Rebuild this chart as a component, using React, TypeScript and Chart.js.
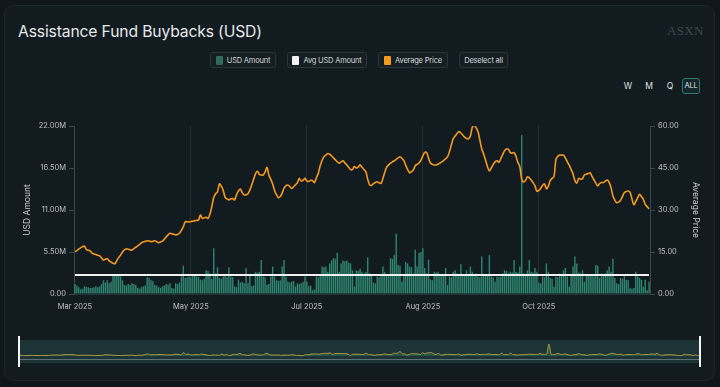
import React, { useEffect, useRef } from 'react';
import { Chart, registerables } from 'chart.js';
Chart.register(...registerables);

// ---- data ----
const startYear = 2025;
const startMonth = 2; // March (0-based)
const startDay = 1;
const labelEvery = 61;

// USD amount bought back per day, in millions
const usdAmountM = [
  1.3, 1.1, 0.9, 0.6, 0.7, 1.0, 0.95, 0.9, 0.8, 0.8,
  0.9, 1.0, 0.9, 1.0, 1.3, 1.8, 1.5, 1.8, 1.4, 1.6,
  2.4, 2.6, 2.5, 2.4, 2.3, 1.8, 1.2, 1.1, 1.3, 1.2,
  1.4, 1.3, 1.2, 0.8, 0.7, 0.9, 1.0, 1.1, 2.2, 2.1,
  1.8, 1.7, 1.2, 1.1, 0.9, 0.8, 1.0, 1.1, 1.3, 1.2,
  1.4, 0.8, 0.7, 1.4, 1.3, 1.5, 2.3, 3.7, 2.1, 2.2,
  2.3, 2.2, 2.6, 2.5, 2.3, 2.2, 1.9, 1.8, 2.0, 3.1,
  3.0, 2.7, 2.0, 6.0, 2.7, 3.5, 2.1, 2.0, 2.3, 2.4,
  2.2, 3.5, 2.3, 2.2, 1.0, 0.9, 1.9, 1.5, 1.6, 1.4,
  3.4, 1.4, 2.5, 1.0, 1.1, 2.9, 2.8, 2.9, 4.45, 2.3,
  2.2, 1.2, 1.3, 2.3, 3.6, 2.3, 1.8, 1.7, 1.8, 3.6,
  4.45, 2.3, 1.6, 1.5, 1.6, 1.7, 1.0, 1.4, 1.3, 1.4,
  1.6, 2.3, 1.6, 1.0, 1.1, 0.5, 0.6, 2.3, 2.2, 2.4,
  3.6, 3.5, 3.6, 2.9, 4.0, 4.4, 4.7, 4.6, 5.4, 2.9,
  4.0, 4.4, 4.3, 4.4, 4.1, 4.0, 3.1, 1.0, 3.1, 3.0,
  3.3, 2.9, 2.7, 2.9, 4.8, 2.7, 2.6, 1.5, 1.4, 2.3,
  2.2, 2.5, 3.6, 2.9, 2.5, 2.4, 4.7, 4.6, 5.1, 7.9,
  3.8, 3.7, 1.6, 2.5, 4.2, 4.0, 3.6, 3.5, 2.7, 5.8,
  3.6, 5.4, 5.5, 6.0, 3.4, 2.7, 4.5, 1.9, 1.8, 2.9,
  2.8, 2.9, 2.5, 2.4, 2.5, 3.4, 1.2, 2.3, 2.2, 2.9,
  3.1, 2.7, 2.6, 3.9, 2.5, 2.4, 3.1, 2.6, 3.6, 2.9,
  2.5, 2.7, 2.3, 2.2, 4.9, 2.5, 2.4, 2.5, 5.1, 2.3,
  2.2, 1.6, 2.3, 2.2, 2.3, 2.7, 3.1, 3.0, 2.7, 2.9,
  2.8, 4.45, 2.9, 2.8, 3.6, 20.8, 2.7, 2.6, 3.1, 4.45,
  2.9, 2.8, 3.4, 2.9, 1.5, 1.4, 2.3, 2.2, 4.0, 2.9,
  2.1, 2.0, 0.95, 2.3, 2.2, 2.7, 2.4, 3.1, 3.4, 2.3,
  0.95, 2.5, 3.6, 4.9, 4.0, 2.8, 2.7, 3.1, 1.6, 2.4,
  2.5, 2.4, 2.5, 2.3, 3.8, 3.7, 2.1, 2.7, 2.6, 2.7,
  3.1, 3.6, 2.9, 4.6, 2.1, 1.4, 1.3, 2.1, 2.0, 2.3,
  1.85, 1.8, 0.75, 0.7, 0.8, 2.9, 2.3, 2.1, 1.85, 0.95,
  1.85, 0.5, 1.6,
];

// Average buyback price per day (USD)
const averagePrice = [
  15.1, 15.5, 16.0, 16.5, 16.9, 17.1, 15.9, 15.6, 15.4, 14.6,
  14.3, 14.1, 13.8, 13.6, 12.9, 12.1, 12.4, 12.6, 11.8, 11.4,
  11.0, 10.8, 11.9, 13.0, 13.9, 15.0, 15.8, 16.1, 16.0, 15.8,
  15.7, 16.2, 16.7, 17.2, 17.7, 18.3, 18.6, 18.8, 19.0, 18.9,
  18.7, 18.8, 19.0, 18.7, 18.3, 18.6, 18.9, 19.6, 20.4, 21.1,
  21.7, 21.5, 21.3, 21.1, 21.3, 21.7, 22.8, 24.0, 25.8, 25.8,
  25.7, 25.9, 26.0, 26.2, 26.3, 26.4, 28.2, 27.0, 27.2, 27.4,
  27.0, 28.5, 31.2, 34.5, 35.8, 36.5, 39.3, 38.5, 37.0, 34.5,
  34.0, 33.6, 34.0, 34.1, 33.6, 35.5, 36.8, 37.5, 36.2, 35.4,
  35.4, 35.8, 37.1, 39.0, 41.0, 43.0, 43.8, 42.7, 42.5, 42.5,
  43.5, 45.2, 42.5, 41.0, 39.3, 37.0, 35.5, 34.4, 34.8, 36.0,
  37.8, 38.7, 38.9, 38.4, 37.7, 38.3, 39.0, 39.7, 41.3, 40.3,
  40.6, 41.3, 40.3, 40.2, 40.6, 40.5, 39.8, 41.5, 43.1, 45.8,
  47.7, 49.0, 49.6, 50.2, 49.9, 49.3, 48.6, 47.9, 47.2, 46.7,
  47.2, 47.6, 46.8, 46.1, 45.3, 44.4, 44.5, 45.5, 45.0, 45.3,
  46.1, 45.3, 44.5, 43.7, 41.0, 39.0, 38.8, 39.4, 39.8, 40.1,
  39.7, 39.5, 41.3, 43.5, 45.3, 46.1, 46.7, 47.2, 47.6, 48.1,
  48.6, 49.0, 48.5, 47.6, 46.0, 44.5, 43.3, 43.7, 44.3, 45.8,
  46.3, 46.8, 47.8, 49.3, 50.6, 50.6, 48.5, 46.8, 46.3, 46.1,
  46.1, 46.4, 46.8, 47.2, 47.7, 48.3, 49.0, 50.8, 53.2, 55.5,
  56.4, 57.3, 58.0, 57.5, 56.8, 56.0, 55.5, 55.4, 56.4, 59.5,
  60.2, 59.4, 58.0, 55.0, 51.8, 50.0, 47.8, 45.5, 44.0, 45.0,
  46.2, 47.2, 47.6, 47.0, 48.3, 49.8, 51.2, 51.8, 51.7, 50.5,
  50.3, 50.5, 49.2, 47.0, 45.5, 41.0, 40.0, 40.5, 41.8, 41.5,
  40.7, 39.8, 38.6, 36.7, 37.0, 37.7, 38.8, 39.3, 37.6, 38.5,
  40.5, 41.3, 41.9, 48.0, 49.2, 49.6, 49.6, 49.6, 48.5, 47.2,
  46.0, 44.5, 42.9, 40.5, 39.6, 41.3, 41.0, 41.2, 42.5, 42.8,
  43.0, 43.3, 42.0, 40.8, 39.6, 38.6, 39.4, 39.8, 39.8, 40.3,
  40.7, 39.9, 38.0, 35.0, 33.5, 32.6, 32.8, 33.5, 34.8, 36.2,
  36.6, 36.8, 36.3, 34.0, 31.9, 33.0, 34.3, 35.6, 34.8, 33.8,
  32.0, 31.2, 30.4,
];

const avgUsdAmountM = 2.49;

const leftAxis = { min: 0, max: 22, step: 5.5 };
const rightAxis = { min: 0, max: 60, step: 15 };

const MONTHS = ['Jan', 'Feb', 'Mar', 'Apr', 'May', 'Jun', 'Jul', 'Aug', 'Sep', 'Oct', 'Nov', 'Dec'];
const dates = averagePrice.map((_, i) => new Date(Date.UTC(startYear, startMonth, startDay + i)));
const labels = dates.map((d) => `${MONTHS[d.getUTCMonth()]} ${d.getUTCDate()}, ${d.getUTCFullYear()}`);

const FONT = 'Inter, "Noto Sans", sans-serif';
const TICK_COLOR = '#b9c0c3';
const AXIS_LINE = '#3d484d';
const GRID_X = '#232d32';

function MainChart() {
  const ref = useRef<HTMLCanvasElement | null>(null);
  useEffect(() => {
    if (!ref.current) return;
    const chart = new Chart(ref.current, {
      type: 'bar',
      data: {
        labels,
        datasets: [
          {
            type: 'line',
            label: 'Average Price',
            data: averagePrice,
            yAxisID: 'y1',
            borderColor: '#f5991f',
            borderWidth: 1.6,
            pointRadius: 0,
            tension: 0.35,
            order: 0,
          } as any,
          {
            type: 'line',
            label: 'Avg USD Amount',
            data: labels.map(() => avgUsdAmountM),
            yAxisID: 'y',
            borderColor: '#eef0f0',
            borderWidth: 2,
            pointRadius: 0,
            order: 1,
          } as any,
          {
            type: 'bar',
            label: 'USD Amount',
            data: usdAmountM,
            yAxisID: 'y',
            backgroundColor: '#2f8470',
            barPercentage: 0.75,
            categoryPercentage: 1,
            order: 2,
          },
        ],
      },
      options: {
        responsive: false,
        animation: false,
        layout: { padding: { left: 18, right: 18, top: 126, bottom: 16 } },
        plugins: { legend: { display: false }, tooltip: { enabled: false } },
        scales: {
          x: {
            offset: true,
            grid: {
              offset: false,
              drawTicks: false,
              color: (ctx: any) => (ctx.index % labelEvery === 0 ? GRID_X : 'rgba(0,0,0,0)'),
            },
            border: { display: true, color: '#263136' },
            ticks: {
              autoSkip: false,
              maxRotation: 0,
              minRotation: 0,
              padding: 8,
              color: TICK_COLOR,
              font: { family: FONT, size: 7.5 },
              callback: (_v: any, i: number) => {
                if (i % labelEvery !== 0) return '';
                const d = dates[i];
                return `${MONTHS[d.getUTCMonth()]} ${d.getUTCFullYear()}`;
              },
            },
            afterFit: (s: any) => { s.height = 20; },
          },
          y: {
            position: 'left',
            min: leftAxis.min,
            max: leftAxis.max,
            grid: { drawOnChartArea: false, drawTicks: true, tickLength: 5, color: AXIS_LINE },
            border: { display: true, color: AXIS_LINE },
            ticks: {
              stepSize: leftAxis.step,
              padding: 3,
              color: TICK_COLOR,
              font: { family: FONT, size: 7.5 },
              callback: (v: any) => (Number(v) === 0 ? '0.00' : `${Number(v).toFixed(2)}M`),
            },
            title: {
              display: true,
              text: 'USD Amount',
              color: '#c9ced1',
              font: { family: FONT, size: 8.5 },
              padding: { top: 4, bottom: 0 },
            },
            afterFit: (s: any) => { s.width = 56; },
          },
          y1: {
            position: 'right',
            min: rightAxis.min,
            max: rightAxis.max,
            grid: { drawOnChartArea: false, drawTicks: true, tickLength: 5, color: AXIS_LINE },
            border: { display: true, color: AXIS_LINE },
            ticks: {
              stepSize: rightAxis.step,
              padding: 3,
              color: TICK_COLOR,
              font: { family: FONT, size: 7.5 },
              callback: (v: any) => Number(v).toFixed(2),
            },
            title: {
              display: true,
              text: 'Average Price',
              color: '#c9ced1',
              font: { family: FONT, size: 8.5 },
              padding: { top: 1, bottom: 0 },
            },
            afterFit: (s: any) => { s.width = 52; },
          },
        },
      },
    });
    return () => chart.destroy();
  }, []);
  return (
    <canvas
      ref={ref}
      width={720}
      height={330}
      style={{ position: 'absolute', left: 0, top: 0, width: 720, height: 330 }}
    />
  );
}

function Navigator() {
  const ref = useRef<HTMLCanvasElement | null>(null);
  useEffect(() => {
    if (!ref.current) return;
    const chart = new Chart(ref.current, {
      type: 'line',
      data: {
        labels,
        datasets: [
          {
            data: usdAmountM,
            borderColor: '#b09a3e',
            borderWidth: 1,
            backgroundColor: 'rgba(46,110,88,0.55)',
            fill: 'origin',
            pointRadius: 0,
            tension: 0.3,
          },
        ],
      },
      options: {
        responsive: false,
        animation: false,
        layout: { padding: 0 },
        plugins: { legend: { display: false }, tooltip: { enabled: false } },
        scales: {
          x: { display: false },
          y: { display: false, min: -12.1, max: 27.7 },
        },
      },
    });
    return () => chart.destroy();
  }, []);
  return (
    <canvas
      ref={ref}
      width={681}
      height={23}
      style={{ position: 'absolute', left: 19, top: 340, width: 681, height: 23 }}
    />
  );
}

const legendItems = [
  { label: 'USD Amount', swatch: '#2e6b58', left: 210, width: 66 },
  { label: 'Avg USD Amount', swatch: '#f2f2f2', left: 287, width: 80 },
  { label: 'Average Price', swatch: '#f5991f', left: 378, width: 70 },
  { label: 'Deselect all', swatch: null, left: 459, width: 49 },
];

const ranges = [
  { label: 'W', left: 623 },
  { label: 'M', left: 644 },
  { label: 'Q', left: 665 },
];

export default function App() {
  return (
    <div
      style={{
        position: 'fixed',
        left: 0,
        top: 0,
        width: 720,
        height: 387,
        background: '#0f171b',
        overflow: 'hidden',
        fontFamily: FONT,
      }}
    >
      <div
        style={{
          position: 'absolute',
          left: 4,
          top: 5,
          width: 711,
          height: 376,
          background: '#121b20',
          border: '1px solid #1d282d',
          borderRadius: 10,
          boxSizing: 'border-box',
        }}
      />
      <div
        style={{
          position: 'absolute',
          left: 18,
          top: 21,
          fontSize: 15.7,
          lineHeight: '22px',
          color: '#e6e9ea',
          letterSpacing: '-0.15px',
          whiteSpace: 'nowrap',
        }}
      >
        Assistance Fund Buybacks (USD)
      </div>
      <div
        style={{
          position: 'absolute',
          left: 667,
          top: 23,
          fontFamily: '"Liberation Serif", "DejaVu Serif", serif',
          fontSize: 13,
          lineHeight: '16px',
          color: '#3e494e',
          letterSpacing: '0.3px',
        }}
      >
        ASXN
      </div>
      {legendItems.map((it) => (
        <div
          key={it.label}
          style={{
            position: 'absolute',
            left: it.left,
            top: 52,
            width: it.width,
            height: 16,
            boxSizing: 'border-box',
            border: '1px solid #2b363b',
            borderRadius: 3,
            background: '#141e23',
            display: 'flex',
            alignItems: 'center',
            justifyContent: 'center',
            gap: 4,
            fontSize: 7.5,
            color: '#d3d8da',
            whiteSpace: 'nowrap',
            letterSpacing: '-0.2px',
          }}
        >
          {it.swatch && (
            <span style={{ display: 'inline-block', width: 7, height: 9, background: it.swatch, borderRadius: 1 }} />
          )}
          <span>{it.label}</span>
        </div>
      ))}
      {ranges.map((r) => (
        <div
          key={r.label}
          style={{
            position: 'absolute',
            left: r.left,
            top: 80,
            width: 10,
            height: 12,
            fontSize: 8.5,
            lineHeight: '12px',
            color: '#dfe3e4',
            textAlign: 'center',
          }}
        >
          {r.label}
        </div>
      ))}
      <div
        style={{
          position: 'absolute',
          left: 682,
          top: 78,
          width: 18,
          height: 16,
          boxSizing: 'border-box',
          border: '1px solid #2f7a68',
          borderRadius: 3,
          background: '#15252a',
          fontSize: 7.5,
          lineHeight: '14px',
          color: '#dfe3e4',
          textAlign: 'center',
          letterSpacing: '-0.3px',
        }}
      >
        ALL
      </div>
      <MainChart />
      <div style={{ position: 'absolute', left: 19, top: 340, width: 681, height: 23, background: '#1d3436' }} />
      <Navigator />
      <div style={{ position: 'absolute', left: 19, top: 359, width: 681, height: 1, background: '#5d7172' }} />
      <div style={{ position: 'absolute', left: 18, top: 336, width: 2, height: 31, background: '#f4f4f4' }} />
      <div style={{ position: 'absolute', left: 699, top: 336, width: 2, height: 31, background: '#f4f4f4' }} />
    </div>
  );
}
